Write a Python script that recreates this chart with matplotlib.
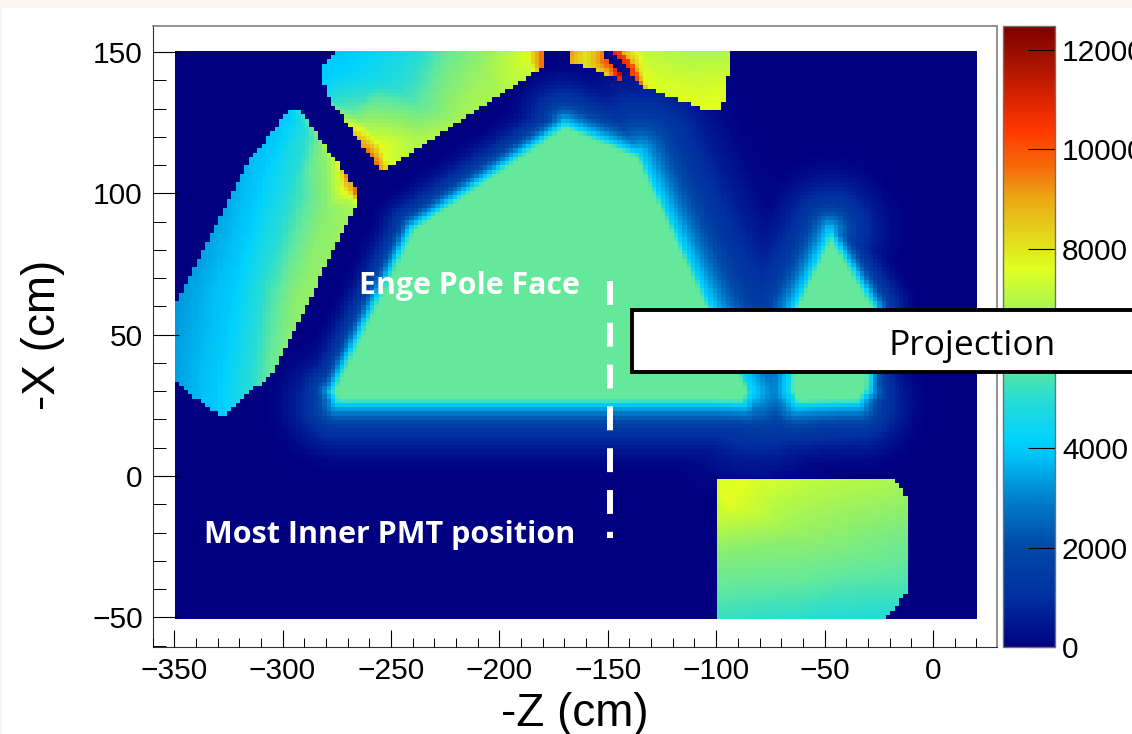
import numpy as np
import matplotlib
matplotlib.use("Agg")
import matplotlib.pyplot as plt
from matplotlib.colors import LinearSegmentedColormap
from matplotlib.patches import Rectangle
from matplotlib.path import Path
from matplotlib.ticker import MultipleLocator
from matplotlib.tri import Triangulation, LinearTriInterpolator

plt.rcParams['font.family'] = ['Liberation Sans', 'DejaVu Sans']

# colour scale
scale_max = 12480
scale_stops = [0, 1000, 2000, 3000, 3800, 4150, 5000, 5650, 6500, 7000, 7600, 8000, 9000, 9600, 10400, 11000, 11700, 12480]
scale_colors = ['#000080', '#0030a0', '#0048a8', '#0082cd', '#00c0f5', '#00d2ff', '#28dcd2', '#64e89b', '#96f064',
                '#b4f846', '#e0ff20', '#e1e61e', '#ebaa14', '#f56e0a', '#ff3700', '#dc2300', '#aa1400', '#7d0000']

# outlines of the magnet sections (z, x in cm)
m1_z = [-350.5, -315, -295.7, -289.7, -264.8, -265.7, -304, -328.4, -350.5]
m1_x = [58.4, 111.8, 130.6, 127, 100.1, 96.6, 36.8, 20.9, 34]
m2_z = [-275.4, -282.3, -281.8, -278.1, -254.2, -180.4, -180.4]
m2_x = [150.6, 143.7, 140.8, 133, 107.6, 144.4, 150.6]
m3_z = [-167.4, -167.4, -144.4, -143.5, -153.6]
m3_x = [150.6, 146.6, 140.4, 141.2, 150.6]
m4_z = [-147.6, -134.4, -102.1, -97.5, -92.4]
m4_x = [150.6, 137.8, 128.9, 128.9, 150.6]
m5_z = [-99.5, -17.5, -11.7, -11.7, -21.4, -99.5]
m5_x = [-1.7, -1.7, -7.5, -40.6, -50.6, -50.6]

# values read inside each section
m1_pz = [-362, -362, -330, -302, -335, -331, -323, -309, -295.7, -316, -309, -295, -288.7, -293, -279.5, -281, -300,
         -272.6, -275, -268, -300, -282, -262, -266, -270, -276, -284, -258, -262, -270, -266, -272]
m1_px = [62, 25, 122, 140, 12, 27, 67, 108, 128, 30, 67, 102, 122, 61, 95, 115, 35, 100, 110.8, 97, 28, 62, 93,
         100, 107, 115, 124, 100, 112, 102, 108, 116]
m1_pv = [2900, 3000, 3000, 3500, 3300, 4000, 4000, 4000, 4100, 4900, 5000, 5000, 5000, 6400, 6300, 6300, 6200, 7400,
         7300, 7000, 6500, 6500, 6900, 9800, 9800, 8800, 6300, 10000, 9000, 8200, 10000, 8500]

m2_pz = [-290, -290, -262, -275, -253.7, -238, -238, -222.8, -222, -207.5, -205, -187.3, -187, -181, -181, -176, -176,
         -278, -272, -265.7, -259.7, -256, -268, -262, -255, -238, -220, -200, -185, -250, -215, -180, -250]
m2_px = [155, 135, 152, 143, 140, 152, 132, 137.6, 153, 143.6, 153, 148, 155, 150, 145, 155, 140,
         133, 126, 120, 114, 110, 129, 124, 117, 119, 125, 135, 143, 100, 120, 138, 108]
m2_pv = [3900, 4000, 4100, 4100, 4700, 4800, 5500, 6200, 5700, 6600, 6500, 7500, 7500, 9500, 9500, 10000, 10000,
         5000, 7000, 8800, 9700, 9500, 5600, 6800, 7600, 6900, 6700, 6800, 7200, 7300, 6700, 7300, 7400]

m3_pz = [-172, -167.4, -167.4, -160, -160, -152, -155, -150, -148, -143.5, -147, -140, -165, -155, -145]
m3_px = [155, 150.6, 146, 150.6, 145, 150.6, 146, 142, 146, 141.2, 150.6, 138, 140, 155, 155]
m3_pv = [9000, 9300, 9000, 8000, 8000, 9500, 9000, 8500, 10500, 12000, 10000, 11000, 8500, 9800, 11000]

m4_pz = [-145.9, -139.8, -134.4, -143, -137.4, -132, -133.7, -113.6, -93.6, -126, -103, -97, -150, -90, -88, -140, -105, -128]
m4_px = [150.1, 146, 138.3, 150, 146, 138.3, 149.6, 149.6, 149.6, 141, 132, 137.6, 155, 155, 125, 132, 122, 130]
m4_pv = [10800, 10500, 9800, 8800, 8500, 7700, 7200, 6900, 6900, 7400, 7600, 7500, 11000, 6900, 7600, 10000, 7600, 7600]

m5_pz = [-105, -85, -55, -25, -5, -5, -5, -25, -60, -105, -105, -95, -60, -30]
m5_px = [3, 0, 3, 3, 3, -20, -55, -55, -55, -55, -30, -10, -20, -25]
m5_pv = [7400, 7600, 7300, 7100, 6800, 5900, 4700, 4700, 4800, 5000, 6100, 7600, 6500, 6000]

# pole faces, outline at the cyan edge, with how far the fringe reaches past each side
pole_z = [-278, -241, -170, -135, -84, -87, -275]
pole_x = [30, 88, 125, 114, 30, 25.5, 25.5]
pole_reach = [0.55, 0.6, 0.9, 1.6, 1.0, 1.0, 0.7]
small_z = [-47.5, -64, -66, -63, -34, -29, -26]
small_x = [87, 60, 30, 25.5, 25.5, 30, 60]
small_reach = [1.1, 1.1, 1.0, 1.0, 0.7, 0.55, 0.6]
# value against distance from that outline (screen px)
fringe_dist = [-8, -5, -2, 0, 5, 12, 25, 42, 58, 75]
fringe_vals = [5650, 5600, 5000, 4100, 3400, 2500, 1300, 600, 150, 0]
pole_level = 5650

x_ticks = [-350, -300, -250, -200, -150, -100, -50, 0]
y_ticks = [-50, 0, 50, 100, 150]
bar_ticks = [0, 2000, 4000, 6000, 8000, 10000, 12000]

dash_z = [-149, -149]
dash_x = [69, -21.9]

W, H = 1132, 734
fig = plt.figure(figsize=(W / 100, H / 100), dpi=100, facecolor='white')

# cream edge of the screenshot
fig.add_artist(Rectangle((0, 1 - 8 / H), 1, 8 / H, transform=fig.transFigure, fc='#f9f6f1', ec='none'))
fig.add_artist(Rectangle((0, 0), 2 / W, 1, transform=fig.transFigure, fc='#f9f6f1', ec='none'))

ax = fig.add_axes([152.5 / W, 1 - 647.3 / H, (996.7 - 152.5) / W, (647.3 - 25.7) / H])
ax.set_xlim(-360, 29.4)
ax.set_ylim(-60.6, 159.3)

z_edges = np.arange(-349.6, 21, 2.0)
x_edges = np.arange(-50.6, 151, 1.5)
zc = (z_edges[:-1] + z_edges[1:]) / 2
xc = (x_edges[:-1] + x_edges[1:]) / 2
zz, xx = np.meshgrid(zc, xc)
pts = np.column_stack([zz.ravel(), xx.ravel()])
sx, sy = 2.168, 2.826  # px per cm


def interp(pz, px, pv):
    tri = Triangulation(np.array(pz, float), np.array(px, float))
    return LinearTriInterpolator(tri, np.array(pv, float))(zz, xx)


def pole_field(oz, ox, reach):
    # distance to the outline, each side stretched by its reach, then the fringe values read above
    qx = np.array(oz) * sx
    qy = np.array(ox) * sy
    dist = np.full(zz.shape, np.inf)
    inner = np.full(zz.shape, np.inf)
    for i in range(len(qx)):
        ax_, ay_ = qx[i], qy[i]
        bx_, by_ = qx[(i + 1) % len(qx)], qy[(i + 1) % len(qx)]
        t = ((zz * sx - ax_) * (bx_ - ax_) + (xx * sy - ay_) * (by_ - ay_)) / ((bx_ - ax_) ** 2 + (by_ - ay_) ** 2)
        t = np.clip(t, 0, 1)
        d = np.hypot(zz * sx - ax_ - t * (bx_ - ax_), xx * sy - ay_ - t * (by_ - ay_))
        dist = np.minimum(dist, d / reach[i])
        inner = np.minimum(inner, d)
    inside = Path(np.column_stack([oz, ox])).contains_points(pts).reshape(zz.shape)
    dist[inside] = -inner[inside]
    return np.interp(dist, fringe_dist, fringe_vals)


big_pole = pole_field(pole_z, pole_x, pole_reach)
small_pole = pole_field(small_z, small_x, small_reach)
# the gap between the poles stays dark, so the weaker fringe only adds a little
field = np.minimum(np.maximum(big_pole, small_pole) + 0.3 * np.minimum(big_pole, small_pole), pole_level)

sections = [(m1_z, m1_x, m1_pz, m1_px, m1_pv),
            (m2_z, m2_x, m2_pz, m2_px, m2_pv),
            (m3_z, m3_x, m3_pz, m3_px, m3_pv),
            (m4_z, m4_x, m4_pz, m4_px, m4_pv),
            (m5_z, m5_x, m5_pz, m5_px, m5_pv)]
for oz, ox, pz, px, pv in sections:
    inside = Path(np.column_stack([oz, ox])).contains_points(pts).reshape(zz.shape)
    vals = interp(pz, px, pv)
    field[inside] = vals.filled(np.mean(pv))[inside]

cmap = LinearSegmentedColormap.from_list('palette', [(s / scale_max, c) for s, c in zip(scale_stops, scale_colors)], N=512)
mesh = ax.pcolormesh(z_edges, x_edges, field, cmap=cmap, vmin=0, vmax=scale_max, shading='flat', zorder=1)

ax.plot(dash_z, dash_x, color='white', lw=4.3, dashes=(24 / 6, 18 / 6), dash_capstyle='butt', zorder=3)
ax.text(-264.8, 67.3, 'Enge Pole Face', color='white', fontsize=21.8, fontweight='bold', family='Open Sans', va='center', zorder=4)
ax.text(-336.3, -20.8, 'Most Inner PMT position', color='white', fontsize=22, fontweight='bold', family='Open Sans', va='center', zorder=4)

ax.set_xticks(x_ticks)
ax.set_yticks(y_ticks)
ax.xaxis.set_minor_locator(MultipleLocator(10))
ax.yaxis.set_minor_locator(MultipleLocator(10))
ax.tick_params(axis='x', which='major', direction='in', length=12.2, width=0.8, labelsize=21.5, pad=7, zorder=5)
ax.tick_params(axis='x', which='minor', direction='in', length=6.5, width=0.7)
ax.tick_params(axis='y', which='major', direction='in', length=18.7, width=0.8, labelsize=21.5, pad=7, zorder=5)
ax.tick_params(axis='y', which='minor', direction='in', length=9.4, width=0.7)
ax.set_axisbelow(False)
ax.spines['top'].set_color('#909090')
ax.spines['right'].set_color('#909090')
ax.spines['top'].set_linewidth(1.4)
ax.spines['right'].set_linewidth(1.4)
ax.spines['left'].set_color('#303030')
ax.spines['bottom'].set_color('#303030')
fig.text(575 / W, 1 - 714 / H, '-Z (cm)', fontsize=33, ha='center', va='center')
fig.text(43 / W, 1 - 335 / H, '-X (cm)', fontsize=33, ha='center', va='center', rotation=90)

cax = fig.add_axes([1002.5 / W, 1 - 647.3 / H, (1055 - 1002.5) / W, (647.3 - 25.7) / H])
bar = fig.colorbar(mesh, cax=cax)
bar.set_ticks(bar_ticks)
bar.minorticks_off()
bar.outline.set_edgecolor('#707070')
bar.outline.set_linewidth(1)
cax.tick_params(axis='y', direction='in', length=19.4, width=0.8, labelsize=21.5, pad=5)

# box pasted over the plot, it runs off the right side
fig.add_artist(Rectangle((632 / W, 1 - 372 / H), 520 / W, 62 / H, transform=fig.transFigure, fc='white', ec='black', lw=2.8,
                         zorder=10, clip_on=False))
fig.text(972 / W, 1 - 346 / H, 'Projection', fontsize=25.5, family='Open Sans', ha='center', va='center', zorder=11)

fig.savefig('out.png', dpi=100)
